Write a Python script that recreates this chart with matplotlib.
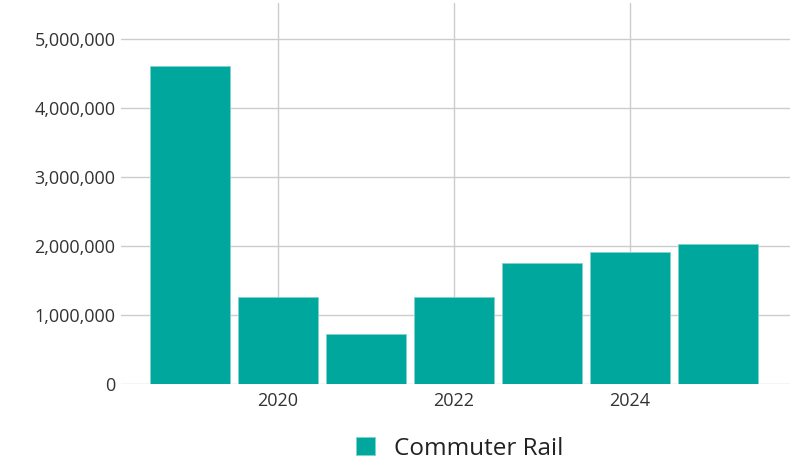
import matplotlib
matplotlib.use("Agg")
import matplotlib.pyplot as plt
from matplotlib.ticker import FuncFormatter

years = [2019, 2020, 2021, 2022, 2023, 2024, 2025]
ridership = [4610000, 1260000, 730000, 1260000, 1750000, 1910000, 2030000]
series_name = "Commuter Rail"
xticks = [2020, 2022, 2024]
yticks = [0, 1000000, 2000000, 3000000, 4000000, 5000000]

plt.rcParams["font.family"] = ["Open Sans", "DejaVu Sans"]

fig = plt.figure(figsize=(7.93, 4.65), dpi=100)
ax = fig.add_axes([121 / 793, 1 - 384 / 465, (790 - 121) / 793, (384 - 3) / 465])

ax.bar(years, ridership, width=0.91, color="#00a79d", edgecolor="#7fd3ce",
       linewidth=0.6, label=series_name, zorder=2)

ax.set_xlim(2018.22, 2025.82)
ax.set_ylim(0, 5520000)
ax.set_xticks(xticks)
ax.set_yticks(yticks)
ax.yaxis.set_major_formatter(FuncFormatter(lambda v, _: f"{int(v):,}"))
ax.grid(True, color="#cccccc", linewidth=1, zorder=0)
ax.set_axisbelow(True)
for s in ax.spines.values():
    s.set_visible(False)
ax.tick_params(length=0, labelsize=13, colors="#333333")
ax.tick_params(axis="x", pad=6)
ax.tick_params(axis="y", pad=4)

fig.legend(loc="lower center", bbox_to_anchor=(0.58, -0.038), frameon=False,
           fontsize=17.5, handlelength=0.75, handleheight=0.75, handletextpad=0.8,
           labelcolor="#222222")

fig.savefig("out.png", dpi=100)
